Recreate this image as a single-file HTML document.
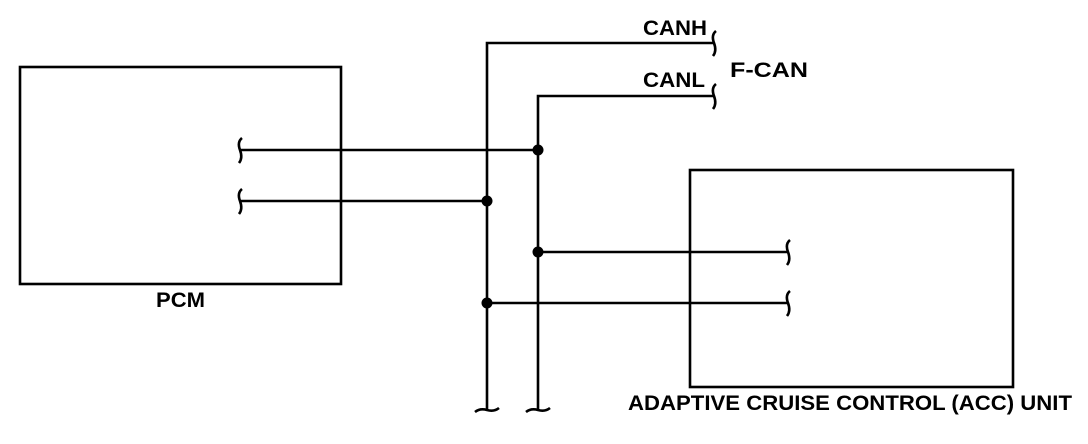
<!DOCTYPE html>
<html><head><style>body{margin:0;background:#fff}</style></head><body>
<svg width="1088" height="444" viewBox="0 0 1088 444" xmlns="http://www.w3.org/2000/svg" style="display:block">
<g fill="none" stroke="#000" stroke-width="2.6">
<rect x="20" y="67" width="321" height="217"/>
<rect x="690" y="170" width="323" height="217"/>
<polyline points="487,410 487,43 714,43"/>
<polyline points="538,410 538,96 714,96"/>
<line x1="240" y1="150" x2="538" y2="150"/>
<line x1="240" y1="201" x2="487" y2="201"/>
<line x1="538" y1="252" x2="788" y2="252"/>
<line x1="487" y1="303" x2="788" y2="303"/>
<path d="M716,31 Q711,35 714,43 Q717,51 713,56"/>
<path d="M716,84 Q711,88 714,96 Q717,104 713,109"/>
<path d="M242,138 Q237,142 240,150 Q243,158 239,163"/>
<path d="M242,189 Q237,193 240,201 Q243,209 239,214"/>
<path d="M790,240 Q785,244 788,252 Q791,260 787,265"/>
<path d="M790,291 Q785,295 788,303 Q791,311 787,316"/>
<path d="M475,412 Q480,408 487,410 Q494,412 499,408"/>
<path d="M526,412 Q531,408 538,410 Q545,412 550,408"/>
</g>
<g fill="#000">
<circle cx="538" cy="150" r="5.5"/><circle cx="487" cy="201" r="5.5"/>
<circle cx="538" cy="252" r="5.5"/><circle cx="487" cy="303" r="5.5"/>
</g>
<g font-family="Liberation Sans, sans-serif" font-weight="bold" font-size="21">
<text x="643" y="35" textLength="64" lengthAdjust="spacingAndGlyphs">CANH</text>
<text x="643" y="87" textLength="62" lengthAdjust="spacingAndGlyphs">CANL</text>
<text x="730" y="77" textLength="78" lengthAdjust="spacingAndGlyphs">F-CAN</text>
<text x="156" y="307" textLength="49" lengthAdjust="spacingAndGlyphs">PCM</text>
<text x="628" y="410" textLength="444" lengthAdjust="spacingAndGlyphs">ADAPTIVE CRUISE CONTROL (ACC) UNIT</text>
</g>
</svg>
</body></html>
